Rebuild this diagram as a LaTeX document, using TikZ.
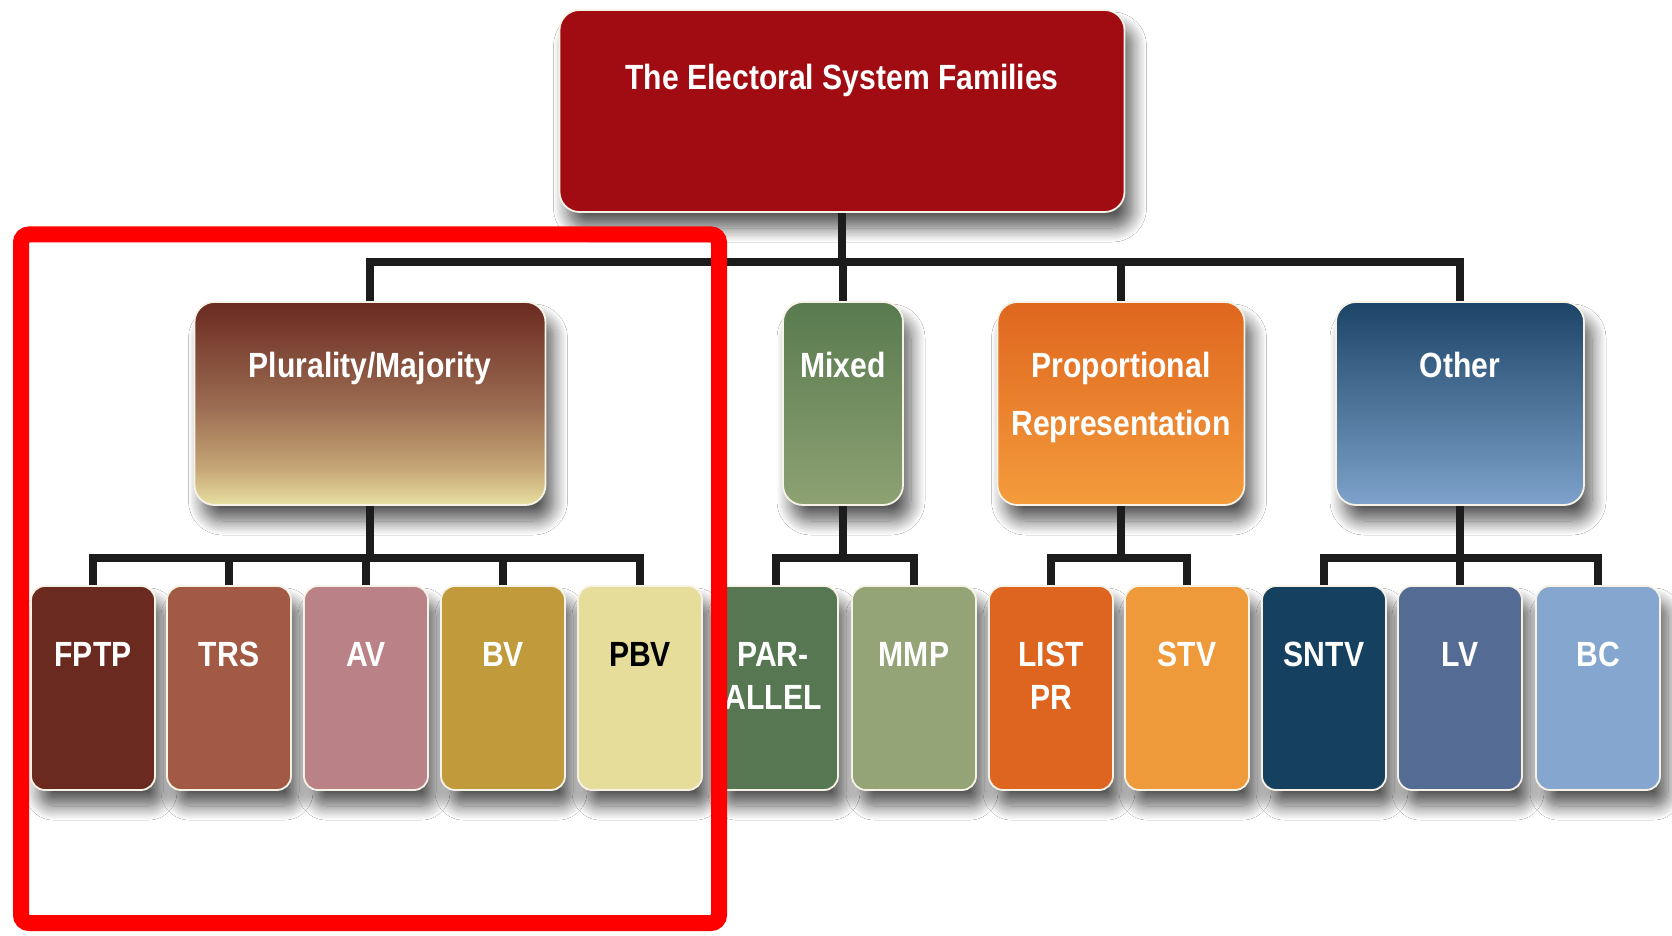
\documentclass[tikz,border=0pt]{standalone}
\usepackage{fontspec}
\usepackage{graphicx}
\setmainfont{Liberation Sans}
\usetikzlibrary{calc,shadows.blur}
\definecolor{topred}{HTML}{A00C12}
\definecolor{plurA}{HTML}{6A2A20}
\definecolor{plurB}{HTML}{9A6A50}
\definecolor{plurB2}{HTML}{C6A676}
\definecolor{plurC}{HTML}{E8E0A2}
\definecolor{mixA}{HTML}{587A4F}
\definecolor{mixB}{HTML}{8EA273}
\definecolor{prA}{HTML}{DF661F}
\definecolor{prB}{HTML}{F49C3C}
\definecolor{othA}{HTML}{1C4467}
\definecolor{othM}{HTML}{46678E}
\definecolor{othB}{HTML}{7EA2CB}
\definecolor{cFPTP}{HTML}{6A2A1F}
\definecolor{cTRS}{HTML}{A35A44}
\definecolor{cAV}{HTML}{BA8286}
\definecolor{cBV}{HTML}{C19A3C}
\definecolor{cPBV}{HTML}{E6DD9B}
\definecolor{cPAR}{HTML}{577752}
\definecolor{cMMP}{HTML}{94A476}
\definecolor{cLIST}{HTML}{DD6520}
\definecolor{cSTV}{HTML}{EE9A3B}
\definecolor{cSNTV}{HTML}{16405F}
\definecolor{cLV}{HTML}{546B93}
\definecolor{cBC}{HTML}{85A6CE}
\definecolor{boxedge}{HTML}{F6F2E6}
\definecolor{linec}{HTML}{1C1C1C}
\pgfdeclareverticalshading{plursh}{100bp}{color(0bp)=(plurC); color(25bp)=(plurC); color(34bp)=(plurB2); color(50bp)=(plurB); color(75bp)=(plurA); color(100bp)=(plurA)}
\newcommand{\sx}[1]{\scalebox{0.86}[1]{#1}}
\tikzset{
  box/.style={rectangle, rounded corners=7pt, draw=boxedge, line width=0.9pt, inner sep=0pt,
    blur shadow={shadow xshift=4pt, shadow yshift=-8pt, shadow blur radius=7pt, shadow blur steps=12, shadow opacity=65}},
  famboxx/.style={box, rounded corners=10pt, minimum height=101.5pt},
  leafbox/.style={box, minimum width=62pt, minimum height=102pt},
  lbl/.style={anchor=north, inner sep=0pt, text=white, align=center,
    font=\bfseries\fontsize{17.5}{21.5}\selectfont},
  conn/.style={draw=linec, line width=4pt, line join=miter},
  frame/.style={draw=red, line width=8pt, rounded corners=4pt}
}
\begin{document}
\begin{tikzpicture}[x=0.5pt, y=-0.5pt]
\useasboundingbox (0,0) rectangle (1672,936);
\fill[white] (0,0) rectangle (1672,936);

% top box
\node[box, rounded corners=10pt, fill=topred, minimum width=282.5pt, minimum height=101pt] (top) at (842,111) {};
\node[lbl] (toplbl) at ($(top.north)+(0,55)$) {\sx{The Electoral System Families}};

% family boxes
\node[famboxx, shading=plursh, minimum width=175.5pt] (plur) at (370,403.5) {};
\node[famboxx, top color=mixA, bottom color=mixB, minimum width=60pt] (mixed) at (843,403.5) {};
\node[famboxx, top color=prA, bottom color=prB, minimum width=123.5pt] (pr) at (1121,403.5) {};
\node[famboxx, top color=othA, middle color=othM, bottom color=othB, minimum width=124pt] (other) at (1460,403.5) {};

\node[lbl] (plurlbl) at ($(plur.north)+(0,51)$) {\sx{Plurality/Majority}};
\node[lbl] (mixedlbl) at ($(mixed.north)+(0,51)$) {\sx{Mixed}};
\node[lbl, font=\bfseries\fontsize{17.5}{29}\selectfont] (prlbl) at ($(pr.north)+(0,51)$) {\sx{Proportional}\\\sx{Representation}};
\node[lbl] (otherlbl) at ($(other.north)+(0,51)$) {\sx{Other}};

% leaf boxes
\node[leafbox, fill=cFPTP] (fptp) at (93,688) {};
\node[leafbox, fill=cTRS] (trs) at (229,688) {};
\node[leafbox, fill=cAV] (av) at (366,688) {};
\node[leafbox, fill=cBV] (bv) at (503,688) {};
\node[leafbox, fill=cPBV] (pbv) at (640,688) {};
\node[leafbox, fill=cPAR] (par) at (776,688) {};
\node[leafbox, fill=cMMP] (mmp) at (914,688) {};
\node[leafbox, fill=cLIST] (list) at (1051,688) {};
\node[leafbox, fill=cSTV] (stv) at (1187,688) {};
\node[leafbox, fill=cSNTV] (sntv) at (1324,688) {};
\node[leafbox, fill=cLV] (lv) at (1460,688) {};
\node[leafbox, fill=cBC] (bc) at (1598,688) {};

\node[lbl] at ($(fptp.north)+(0,57)$) {\sx{FPTP}};
\node[lbl] at ($(trs.north)+(0,57)$) {\sx{TRS}};
\node[lbl] at ($(av.north)+(0,57)$) {\sx{AV}};
\node[lbl] at ($(bv.north)+(0,57)$) {\sx{BV}};
\node[lbl, text=black] at ($(pbv.north)+(0,57)$) {\sx{PBV}};
\node[lbl] at ($(par.north)+(-3,57)$) {\sx{PAR-}\\\sx{ALLEL}};
\node[lbl] at ($(mmp.north)+(0,57)$) {\sx{MMP}};
\node[lbl] at ($(list.north)+(0,57)$) {\sx{LIST}\\\sx{PR}};
\node[lbl] at ($(stv.north)+(0,57)$) {\sx{STV}};
\node[lbl] at ($(sntv.north)+(0,57)$) {\sx{SNTV}};
\node[lbl] at ($(lv.north)+(0,57)$) {\sx{LV}};
\node[lbl] at ($(bc.north)+(0,57)$) {\sx{BC}};

% connectors
\coordinate (bus1) at (0,262);
\coordinate (bus2) at (0,558);
\draw[conn] (top.south) -- (top.south |- bus1);
\draw[conn] (plur.north) -- (plur.north |- bus1) -- (other.north |- bus1) -- (other.north);
\draw[conn] (mixed.north |- bus1) -- (mixed.north);
\draw[conn] (pr.north |- bus1) -- (pr.north);

\draw[conn] (plur.south) -- (plur.south |- bus2);
\draw[conn] (fptp.north) -- (fptp.north |- bus2) -- (pbv.north |- bus2) -- (pbv.north);
\draw[conn] (trs.north |- bus2) -- (trs.north);
\draw[conn] (av.north |- bus2) -- (av.north);
\draw[conn] (bv.north |- bus2) -- (bv.north);

\draw[conn] (mixed.south) -- (mixed.south |- bus2);
\draw[conn] (par.north) -- (par.north |- bus2) -- (mmp.north |- bus2) -- (mmp.north);

\draw[conn] (pr.south) -- (pr.south |- bus2);
\draw[conn] (list.north) -- (list.north |- bus2) -- (stv.north |- bus2) -- (stv.north);

\draw[conn] (other.south) -- (other.south |- bus2);
\draw[conn] (sntv.north) -- (sntv.north |- bus2) -- (bc.north |- bus2) -- (bc.north);
\draw[conn] (lv.north |- bus2) -- (lv.north);

% red highlight frame
\draw[frame] (21,234.5) rectangle (719,923);
\end{tikzpicture}
\end{document}
